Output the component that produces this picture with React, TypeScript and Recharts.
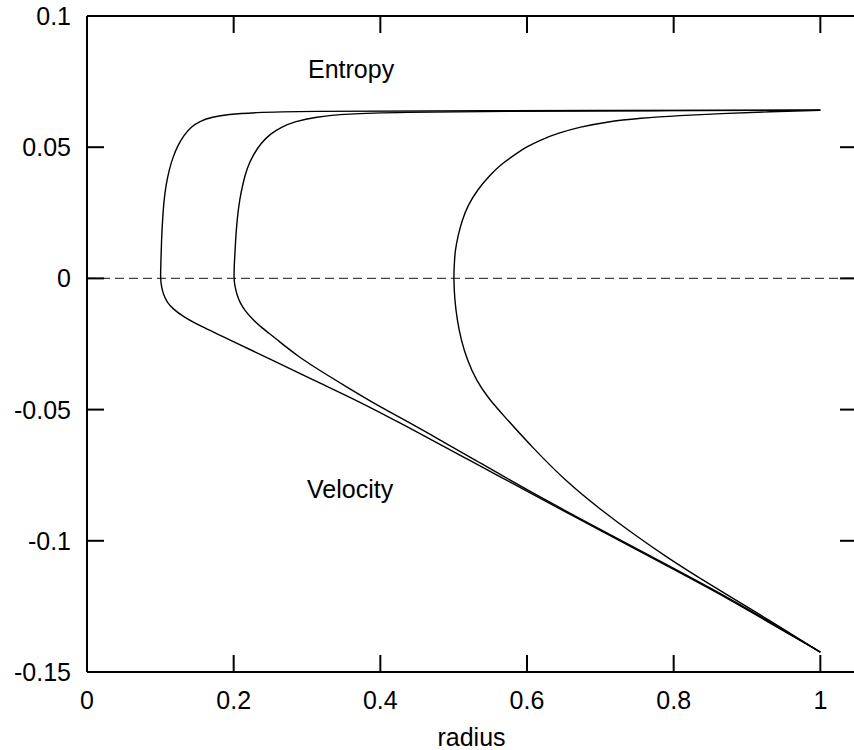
import React from "react";
import { LineChart, Line, XAxis, YAxis, ReferenceLine } from "recharts";

/* axis ticks */
const xTicks = [0, 0.2, 0.4, 0.6, 0.8, 1];
const yTicks = [-0.15, -0.1, -0.05, 0, 0.05, 0.1];

/* each curve: [radius, value], read from bottom (velocity) up to top (entropy) */
const curveR01: [number, number][] = [
  [1.0, -0.1424], [0.9277, -0.1308], [0.8813, -0.1231], [0.7913, -0.1096],
  [0.6999, -0.0961], [0.6085, -0.0824], [0.5184, -0.0688], [0.427, -0.0551],
  [0.3724, -0.0471], [0.3083, -0.0387], [0.2497, -0.0307], [0.1951, -0.0235],
  [0.1542, -0.0181], [0.131, -0.0145], [0.1173, -0.0117], [0.1091, -0.009],
  [0.1044, -0.0063], [0.1016, -0.0033], [0.1, 0],
  [0.1009, 0.007], [0.1016, 0.0146], [0.103, 0.0222], [0.105, 0.0299],
  [0.1078, 0.0356], [0.1119, 0.0413], [0.1173, 0.0463], [0.1241, 0.0508],
  [0.1323, 0.0546], [0.1419, 0.0577], [0.1542, 0.06], [0.1705, 0.0615],
  [0.1924, 0.0625], [0.2265, 0.0632], [0.2906, 0.0637], [0.4952, 0.0639],
  [1.0, 0.0641],
];

const curveR02: [number, number][] = [
  [1.0, -0.1424], [0.9277, -0.1304], [0.8813, -0.1227], [0.7913, -0.1092],
  [0.6999, -0.0957], [0.6085, -0.082], [0.5225, -0.0681], [0.4816, -0.0616],
  [0.4407, -0.0551], [0.3997, -0.049], [0.3629, -0.0429], [0.3274, -0.0368],
  [0.2865, -0.0296], [0.2565, -0.0227], [0.2387, -0.0189], [0.2251, -0.0154],
  [0.2156, -0.0124], [0.2087, -0.0093], [0.2046, -0.0063], [0.2019, -0.0033],
  [0.2, 0],
  [0.2012, 0.007], [0.2026, 0.0146], [0.2046, 0.0222], [0.208, 0.0299],
  [0.2128, 0.0364], [0.2183, 0.0421], [0.2265, 0.047], [0.2374, 0.0516],
  [0.2497, 0.055], [0.2647, 0.0577], [0.2838, 0.0598], [0.3111, 0.0615],
  [0.352, 0.0627], [0.427, 0.0633], [0.5634, 0.0637], [0.7681, 0.0639],
  [1.0, 0.0641],
];

const curveR05: [number, number][] = [
  [1.0, -0.1424], [0.9277, -0.1298], [0.8813, -0.122], [0.8363, -0.1144],
  [0.7913, -0.1064], [0.7449, -0.0974], [0.6999, -0.088], [0.6548, -0.0778],
  [0.6085, -0.0648], [0.5662, -0.0517], [0.5471, -0.0456], [0.5307, -0.0388],
  [0.5184, -0.0311], [0.5102, -0.0235], [0.5048, -0.0159], [0.5014, -0.0082],
  [0.5, 0],
  [0.5008, 0.0051], [0.502, 0.0108], [0.5061, 0.0165], [0.5116, 0.0223],
  [0.5198, 0.028], [0.5321, 0.0337], [0.5498, 0.0394], [0.5634, 0.0432],
  [0.5825, 0.047], [0.599, 0.0501], [0.618, 0.0527], [0.6426, 0.0554],
  [0.6726, 0.0577], [0.7067, 0.0596], [0.7544, 0.0611], [0.8083, 0.0621],
  [0.8636, 0.0628], [0.9318, 0.0635], [1.0, 0.0641],
];

const curves = [curveR01, curveR02, curveR05];

const FONT = "'Liberation Sans', Arial, Helvetica, sans-serif";
const TICK_LEN = 17;

// chart box: plot area runs 87..857 x 16..672
const CHART_W = 880;
const CHART_H = 750;
const MARGIN = { top: 16, right: 23, bottom: 0, left: 0 };
const Y_AXIS_W = 87;
const X_AXIS_H = 78;
const PLOT_W = CHART_W - MARGIN.left - MARGIN.right - Y_AXIS_W;
const PLOT_H = CHART_H - MARGIN.top - MARGIN.bottom - X_AXIS_H;

// left tick + label, mirrored tick on the right border
function LeftTick(props: any) {
  const { x, y, payload } = props;
  return (
    <g>
      <line x1={x} x2={x + TICK_LEN} y1={y} y2={y} stroke="#000" strokeWidth={2} />
      <line x1={x + PLOT_W} x2={x + PLOT_W - TICK_LEN} y1={y} y2={y} stroke="#000" strokeWidth={2} />
      <text x={x - 16} y={y + 9} textAnchor="end" fontSize={25} fontFamily={FONT} fill="#000">
        {String(payload.value)}
      </text>
    </g>
  );
}

// bottom tick + label, mirrored tick on the top border
function BottomTick(props: any) {
  const { x, y, payload } = props;
  return (
    <g>
      <line x1={x} x2={x} y1={y} y2={y - TICK_LEN} stroke="#000" strokeWidth={2} />
      <line x1={x} x2={x} y1={y - PLOT_H} y2={y - PLOT_H + TICK_LEN} stroke="#000" strokeWidth={2} />
      <text x={x} y={y + 37} textAnchor="middle" fontSize={25} fontFamily={FONT} fill="#000">
        {String(payload.value)}
      </text>
    </g>
  );
}

export default function App() {
  const axisLine = { stroke: "#000", strokeWidth: 2 };
  return (
    <div
      style={{
        position: "absolute",
        left: 0,
        top: 0,
        width: 854,
        height: 750,
        overflow: "hidden",
        background: "#fff",
      }}
    >
      <LineChart width={CHART_W} height={CHART_H} margin={MARGIN}>
        <XAxis
          xAxisId="b"
          type="number"
          dataKey="r"
          domain={[0, 1.05]}
          ticks={xTicks}
          interval={0}
          allowDataOverflow
          height={X_AXIS_H}
          tickSize={0}
          tickMargin={0}
          tickLine={false}
          axisLine={axisLine}
          tick={<BottomTick />}
        />
        <YAxis
          yAxisId="l"
          type="number"
          dataKey="v"
          domain={[-0.15, 0.1]}
          ticks={yTicks}
          interval={0}
          allowDataOverflow
          width={Y_AXIS_W}
          tickSize={0}
          tickMargin={0}
          tickLine={false}
          axisLine={axisLine}
          tick={<LeftTick />}
        />
        {/* top and right frame */}
        <ReferenceLine xAxisId="b" yAxisId="l" y={0.1} stroke="#000" strokeWidth={2} />
        <ReferenceLine xAxisId="b" yAxisId="l" x={1.05} stroke="#000" strokeWidth={2} />
        <ReferenceLine
          xAxisId="b"
          yAxisId="l"
          y={0}
          stroke="#444"
          strokeWidth={1.2}
          strokeDasharray="9 5"
        />
        {curves.map((c, i) => (
          <Line
            key={i}
            xAxisId="b"
            yAxisId="l"
            data={c.map(([r, v]) => ({ r, v }))}
            dataKey="v"
            type="basis"
            stroke="#000"
            strokeWidth={1.4}
            dot={false}
            activeDot={false}
            isAnimationActive={false}
          />
        ))}
      </LineChart>
      <svg
        width={854}
        height={750}
        style={{ position: "absolute", left: 0, top: 0, pointerEvents: "none" }}
      >
        <text x={308} y={78} fontSize={25} fontFamily={FONT} fill="#000">Entropy</text>
        <text x={307} y={498} fontSize={25} fontFamily={FONT} fill="#000">Velocity</text>
        <text x={471.5} y={746} textAnchor="middle" fontSize={25} fontFamily={FONT} fill="#000">radius</text>
      </svg>
    </div>
  );
}
